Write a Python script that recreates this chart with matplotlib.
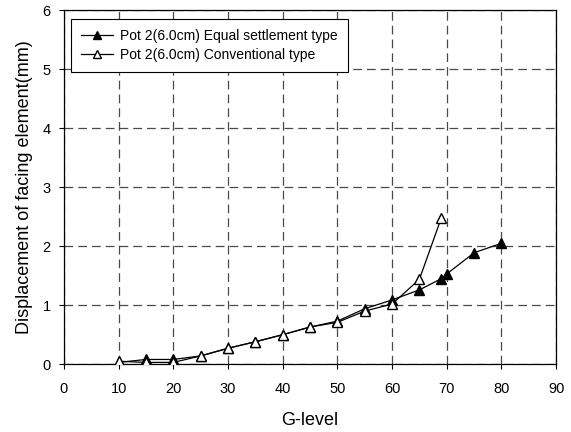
# Facing element displacement against G-level for two pot types
import matplotlib.pyplot as plt

plt.rcParams['font.family'] = ['Liberation Sans', 'DejaVu Sans']

# Pot 2 (6.0cm), equal settlement type
g_equal = [10, 15, 20, 25, 30, 35, 40, 45, 50, 55, 60, 65, 69, 70, 75, 80]
d_equal = [0.03, 0.08, 0.08, 0.14, 0.27, 0.38, 0.50, 0.63, 0.73, 0.94, 1.09, 1.26, 1.45, 1.53, 1.89, 2.05]

# Pot 2 (6.0cm), conventional type
g_conv = [10, 15, 20, 25, 30, 35, 40, 45, 50, 55, 60, 65, 69]
d_conv = [0.05, 0.03, 0.03, 0.14, 0.27, 0.38, 0.50, 0.63, 0.71, 0.90, 1.02, 1.44, 2.48]

fig = plt.figure(figsize=(5.71, 4.32), dpi=100)
ax = fig.add_axes([0.112, 0.157, 0.862, 0.819])

ax.plot(g_equal, d_equal, color='black', lw=0.9, marker='^', markersize=7,
        markerfacecolor='black', markeredgecolor='black',
        label='Pot 2(6.0cm) Equal settlement type', zorder=3)
ax.plot(g_conv, d_conv, color='black', lw=0.9, marker='^', markersize=7,
        markerfacecolor='white', markeredgecolor='black',
        label='Pot 2(6.0cm) Conventional type', zorder=3)

ax.set_xlim(0, 90)
ax.set_ylim(0, 6)
ax.set_xticks(range(0, 91, 10))
ax.set_yticks(range(0, 7))
ax.grid(True, color='#4a4a4a', linestyle=(0, (7, 4)), linewidth=0.9)
ax.tick_params(direction='out', length=3.5, labelsize=10.5, width=0.8)
ax.tick_params(axis='x', pad=9)
ax.tick_params(axis='y', pad=6)
for s in ax.spines.values():
    s.set_linewidth(0.9)

ax.set_xlabel('G-level', fontsize=13, labelpad=12)
ax.set_ylabel('Displacement of facing element(mm)', fontsize=13, labelpad=7)

leg = ax.legend(loc='upper left', bbox_to_anchor=(0.0142, 0.977), borderaxespad=0,
                fontsize=10, frameon=True, fancybox=False, edgecolor='black',
                framealpha=1, handlelength=2.3, handletextpad=0.5,
                borderpad=0.75, labelspacing=0.35, markerscale=0.75)
leg.get_frame().set_linewidth(0.8)

fig.savefig('out.png', dpi=100)
